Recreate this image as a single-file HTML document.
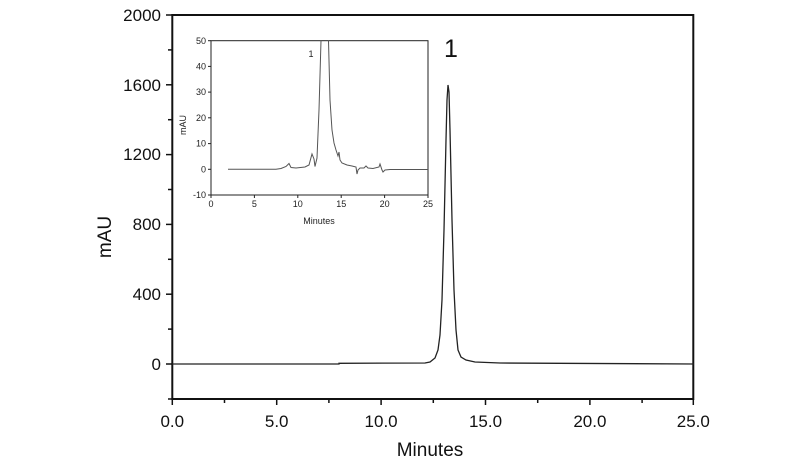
<!DOCTYPE html>
<html><head><style>
body{margin:0;background:#fff;}
svg{display:block;font-family:"Liberation Sans",Arial,sans-serif;}
</style></head><body>
<svg width="800" height="465" viewBox="0 0 800 465">
<rect width="800" height="465" fill="#fff"/>
<rect x="172.3" y="15" width="521" height="384" fill="none" stroke="#111" stroke-width="2"/>
<g stroke="#111" stroke-width="1.5">
<line x1="166" y1="364" x2="172" y2="364"/><line x1="166" y1="294.2" x2="172" y2="294.2"/>
<line x1="166" y1="224.4" x2="172" y2="224.4"/><line x1="166" y1="154.6" x2="172" y2="154.6"/>
<line x1="166" y1="84.8" x2="172" y2="84.8"/><line x1="166" y1="15" x2="172" y2="15"/>
<line x1="168" y1="399" x2="172" y2="399"/><line x1="168" y1="329.1" x2="172" y2="329.1"/>
<line x1="168" y1="259.3" x2="172" y2="259.3"/><line x1="168" y1="189.5" x2="172" y2="189.5"/>
<line x1="168" y1="119.7" x2="172" y2="119.7"/><line x1="168" y1="49.9" x2="172" y2="49.9"/>
<line x1="172.3" y1="399" x2="172.3" y2="405"/><line x1="276.7" y1="399" x2="276.7" y2="405"/>
<line x1="381.1" y1="399" x2="381.1" y2="405"/><line x1="485.5" y1="399" x2="485.5" y2="405"/>
<line x1="589.9" y1="399" x2="589.9" y2="405"/><line x1="693.3" y1="399" x2="693.3" y2="405"/>
<line x1="224.5" y1="399" x2="224.5" y2="403"/><line x1="328.9" y1="399" x2="328.9" y2="403"/>
<line x1="433.3" y1="399" x2="433.3" y2="403"/><line x1="537.7" y1="399" x2="537.7" y2="403"/>
<line x1="642.1" y1="399" x2="642.1" y2="403"/>
</g>
<g font-size="17" fill="#111" text-anchor="end">
<text x="161" y="370">0</text><text x="161" y="300">400</text><text x="161" y="230">800</text>
<text x="161" y="160">1200</text><text x="161" y="91">1600</text><text x="161" y="21">2000</text>
</g>
<g font-size="17" fill="#111" text-anchor="middle">
<text x="172.3" y="427">0.0</text><text x="276.7" y="427">5.0</text><text x="381.1" y="427">10.0</text>
<text x="485.5" y="427">15.0</text><text x="589.9" y="427">20.0</text><text x="693.3" y="427">25.0</text>
<text x="430" y="456" font-size="19">Minutes</text>
<text x="0" y="0" font-size="19" transform="translate(111,237) rotate(-90)">mAU</text>
<text x="451" y="57" font-size="25">1</text>
</g>
<polyline fill="none" stroke="#222" stroke-width="1.3" points="172,364 339,364 339,363.3 425,363 430,362 435,358 438,350 440,335 442,300 444,230 446,140 447,100 448,85 449,92 450,130 452,220 454,290 456,330 458,350 461,357 466,360 475,362 500,363 694,364"/>
<rect x="211" y="40.7" width="217" height="154.3" fill="#fff" stroke="#222" stroke-width="1"/>
<g stroke="#222" stroke-width="1">
<line x1="208" y1="40.7" x2="211" y2="40.7"/><line x1="208" y1="66.4" x2="211" y2="66.4"/>
<line x1="208" y1="92.1" x2="211" y2="92.1"/><line x1="208" y1="117.8" x2="211" y2="117.8"/>
<line x1="208" y1="143.6" x2="211" y2="143.6"/><line x1="208" y1="169.3" x2="211" y2="169.3"/>
<line x1="208" y1="195" x2="211" y2="195"/>
<line x1="211" y1="195" x2="211" y2="198"/><line x1="254.4" y1="195" x2="254.4" y2="198"/>
<line x1="297.8" y1="195" x2="297.8" y2="198"/><line x1="341.2" y1="195" x2="341.2" y2="198"/>
<line x1="384.6" y1="195" x2="384.6" y2="198"/><line x1="428" y1="195" x2="428" y2="198"/>
</g>
<g font-size="9" fill="#222" text-anchor="end">
<text x="206" y="44">50</text><text x="206" y="69.5">40</text><text x="206" y="95.2">30</text>
<text x="206" y="121">20</text><text x="206" y="146.7">10</text><text x="206" y="172.4">0</text>
<text x="206" y="198">-10</text>
</g>
<g font-size="9" fill="#222" text-anchor="middle">
<text x="211" y="207">0</text><text x="254.4" y="207">5</text><text x="297.8" y="207">10</text>
<text x="341.2" y="207">15</text><text x="384.6" y="207">20</text><text x="428" y="207">25</text>
<text x="319" y="224">Minutes</text>
<text x="0" y="0" transform="translate(186,125) rotate(-90)">mAU</text>
<text x="311" y="57">1</text>
</g>
<polyline fill="none" stroke="#555" stroke-width="1" points="228,169.3 276,169.3 281,168.5 286,166.5 289,163.5 291,167.5 296,168 305,167 309,165 312,154 314,159 315,166.5 317,158 319,110 321,40.7"/>
<polyline fill="none" stroke="#555" stroke-width="1" points="328.5,40.7 330,100 332,130 334,143 336,150 338,156 339,152 340,160 342,163 347,165 352,166 356,167 357,174 358,170 360,168 364,168 366,166 368,168 373,168.5 379,167 380,164 382,170 383,172 385,170 390,169.5 428,169.5"/>
</svg>
</body></html>
